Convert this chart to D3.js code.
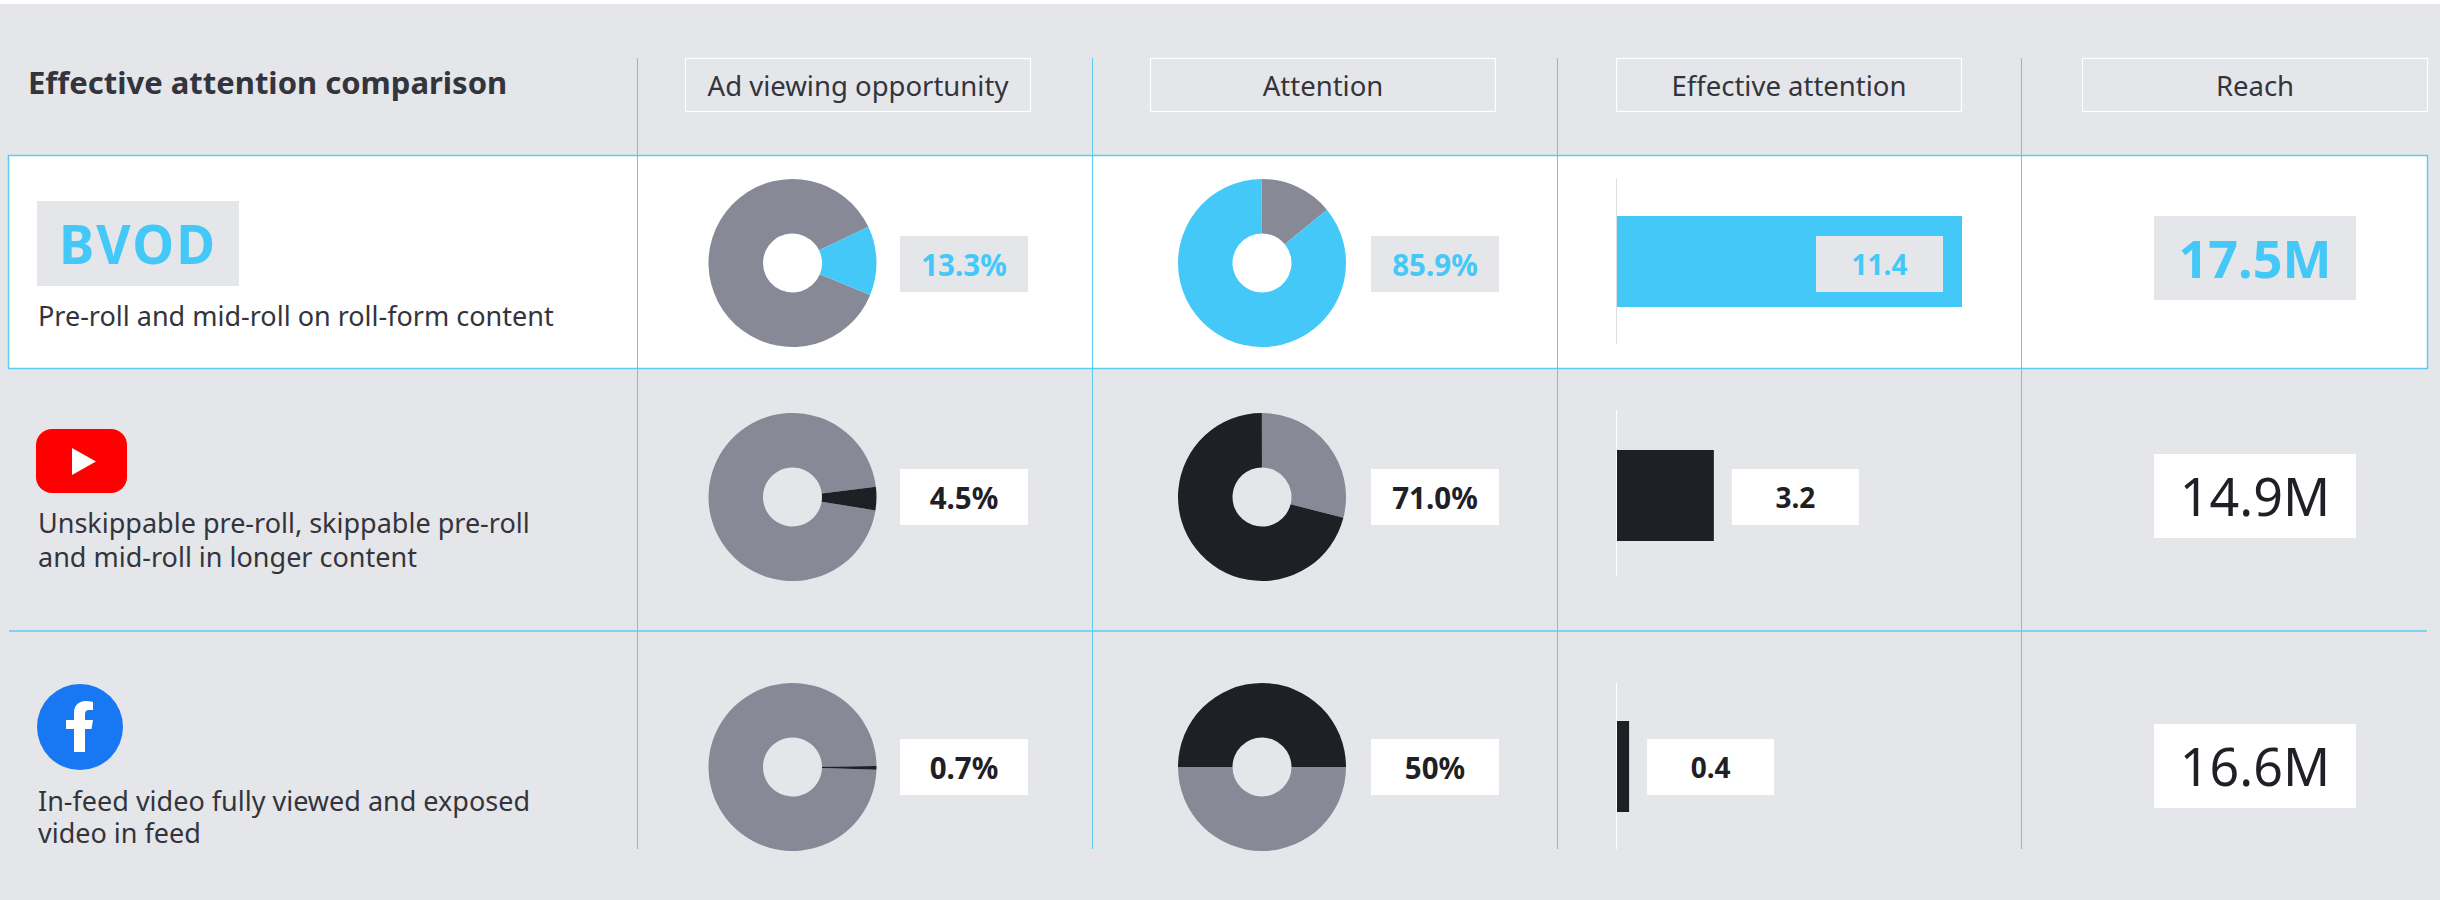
<!DOCTYPE html>
<html><head><meta charset="utf-8">
<script src="https://cdnjs.cloudflare.com/ajax/libs/d3/7.8.5/d3.min.js"></script>
<style>html,body{margin:0;padding:0;background:#fff}svg{display:block}text{font-family:"Noto Sans",sans-serif}</style>
</head><body><svg id="c" width="2440" height="900"></svg>
<script>
const title = "Effective attention comparison";
const headers = ["Ad viewing opportunity","Attention","Effective attention","Reach"];
const platforms = ["BVOD","YouTube","Facebook"];
const descriptions = [["Pre-roll and mid-roll on roll-form content"],["Unskippable pre-roll, skippable pre-roll","and mid-roll in longer content"],["In-feed video fully viewed and exposed","video in feed"]];
const avo = [13.3,4.5,0.7];
const avoLabels = ["13.3%","4.5%","0.7%"];
const attention = [85.9,71.0,50];
const attentionLabels = ["85.9%","71.0%","50%"];
const effective = [11.4,3.2,0.4];
const effectiveLabels = ["11.4","3.2","0.4"];
const reachLabels = ["17.5M","14.9M","16.6M"];

const BG="#e5e6ea",BLUE="#44c8f8",GRAY="#878997",DARK="#1f2025",TXT="#33343c",LINE="#5ccbf0";
const svg=d3.select("#c");
svg.append("rect").attr("width",2440).attr("height",900).attr("fill",BG);
svg.append("rect").attr("width",2440).attr("height",4).attr("fill","#fff");
const rowY=d3.scaleOrdinal().domain(platforms).range([263,497,767]);
const colX=[637.5,1092.5,1557.5,2021.5];
svg.append("rect").attr("x",8.5).attr("y",155.5).attr("width",2419).attr("height",213).attr("fill","#fff").attr("stroke",LINE).attr("stroke-width",1.5);
svg.append("line").attr("x1",9).attr("x2",2427).attr("y1",631).attr("y2",631).attr("stroke",LINE).attr("stroke-width",1.5);
svg.selectAll(".v").data(colX).join("line").attr("x1",d=>d).attr("x2",d=>d).attr("y1",58).attr("y2",849).attr("stroke",LINE).attr("stroke-width",1);
svg.append("text").attr("x",28).attr("y",94).attr("font-size",31).attr("font-weight",700).attr("fill",TXT).text(title);
const headX=[685,1150,1616,2082];
headers.forEach((h,i)=>{
 svg.append("rect").attr("x",headX[i]+.5).attr("y",58.5).attr("width",345).attr("height",53).attr("fill","none").attr("stroke","#fff").attr("stroke-width",1.2);
 svg.append("text").attr("x",headX[i]+173).attr("y",96).attr("text-anchor","middle").attr("font-size",27.5).attr("fill",TXT).text(h);
});
// label column
svg.append("rect").attr("x",37).attr("y",201).attr("width",202).attr("height",85).attr("fill",BG);
svg.append("text").attr("x",138).attr("y",264).attr("text-anchor","middle").attr("font-size",53).attr("font-weight",700).attr("letter-spacing",2).attr("fill",BLUE).text("BVOD");
svg.append("rect").attr("x",36).attr("y",429).attr("width",91).attr("height",64).attr("rx",16).attr("fill","#ff0000");
svg.append("path").attr("d","M72 448L72 475L96 461.5Z").attr("fill","#fff");
svg.append("circle").attr("cx",80).attr("cy",727).attr("r",43).attr("fill","#1877f2");
svg.append("path").attr("d","M74 752V729H66V720H74V713C74 705 79 701 86 701C89 701 93 702 93 702V710H89C86 710 85 712 85 714V720H93L91.500 729H85V752Z").attr("fill","#fff");
const descY=[[326],[533,567],[811,843]];
descriptions.forEach((ls,r)=>ls.forEach((l,j)=>svg.append("text").attr("x",38).attr("y",descY[r][j]).attr("font-size",27).attr("fill",TXT).text(l)));
// donuts
const arc=d3.arc().innerRadius(29.5).outerRadius(84);
const TAU=2*Math.PI;
function donut(cx,cy,share,start,accent){
 const a=start*TAU/360, e=a+share/100*TAU;
 const g=svg.append("g").attr("transform",`translate(${cx},${cy})`);
 g.append("path").attr("d",arc({startAngle:e,endAngle:a+TAU})).attr("fill",GRAY);
 g.append("path").attr("d",arc({startAngle:a,endAngle:e})).attr("fill",accent);
}
const accent=r=>r===0?BLUE:DARK;
function box(x,y,w,h,r,t,fs,fw){
 svg.append("rect").attr("x",x).attr("y",y).attr("width",w).attr("height",h).attr("fill",r===0?BG:"#fff");
 svg.append("text").attr("x",x+w/2).attr("y",y+h/2+fs*.36+1).attr("text-anchor","middle").attr("font-size",fs).attr("font-weight",fw).attr("fill",r===0?BLUE:DARK).text(t);
}
const avoStart=[64.5,83,89.3];
const attStart=[50.6,104.3,270];
const barTop=[216,450,721];
const axisTop=[178,410,683];
const reachTop=[216,454,724];
const labelTop=[236,469,739];
const x=d3.scaleLinear().domain([0,11.4]).range([1617,1962]);
platforms.forEach((p,r)=>{
 const cy=rowY(p);
 donut(792.5,cy,avo[r],avoStart[r],accent(r));
 box(900,labelTop[r],128,56,r,avoLabels[r],29.5,700);
 donut(1262,cy,attention[r],attStart[r],accent(r));
 box(1371,labelTop[r],128,56,r,attentionLabels[r],29.5,700);
 svg.append("line").attr("x1",1616.5).attr("x2",1616.5).attr("y1",axisTop[r]).attr("y2",axisTop[r]+166).attr("stroke",r===0?"#dedfe3":"#fff").attr("stroke-width",1);
 svg.append("rect").attr("x",x(0)).attr("y",barTop[r]).attr("width",x(effective[r])-x(0)).attr("height",91).attr("fill",accent(r));
 const bx=r===0?1816:x(effective[r])+18;
 box(bx,labelTop[r],127,56,r,effectiveLabels[r],28,700);
 box(2154,reachTop[r],202,84,r,reachLabels[r],52,r===0?700:400);
});
</script></body></html>
